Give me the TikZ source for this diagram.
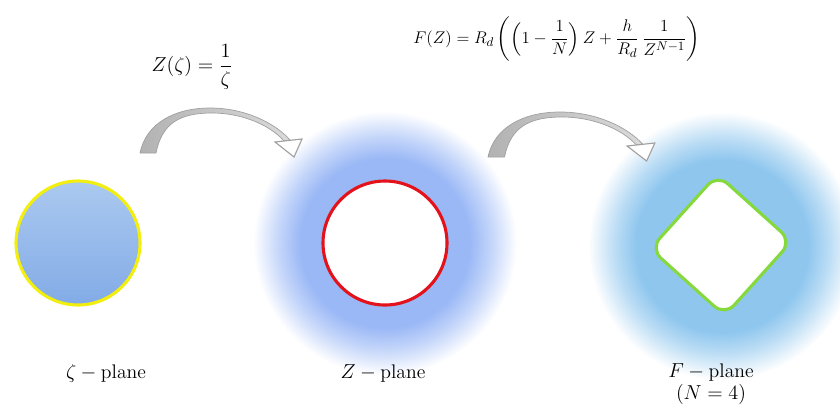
\documentclass[tikz,border=0pt]{standalone}
\usepackage{amsmath,amssymb}
\usepackage{tikz}
\usepackage{xcolor}
\usetikzlibrary{positioning, calc, shadings}
\definecolor{ringyellow}{HTML}{F2EE10}
\definecolor{ringred}{HTML}{E3121B}
\definecolor{diamgreen}{HTML}{86D93C}
\definecolor{disctop}{HTML}{ABC9F0}
\definecolor{discbottom}{HTML}{82ABE6}
\definecolor{glowz}{HTML}{9AB8F6}
\definecolor{glowf}{HTML}{8EC6EE}
\definecolor{arrowdark}{HTML}{B2B2B2}
\definecolor{arrowlight}{HTML}{DADADA}
\definecolor{arrowline}{HTML}{A0A0A0}
\pgfdeclareradialshading{glowzshade}{\pgfpoint{0bp}{0bp}}{color(0bp)=(glowz); color(16bp)=(glowz); color(20bp)=(glowz!60); color(25bp)=(white); color(50bp)=(white)}
\pgfdeclareradialshading{glowfshade}{\pgfpoint{0bp}{0bp}}{color(0bp)=(glowf); color(16bp)=(glowf); color(20bp)=(glowf!60); color(25bp)=(white); color(50bp)=(white)}
\tikzset{
  lbl/.style={font=\fontsize{14}{17}\selectfont, inner sep=1pt},
  pics/maparrow/.style={code={
    \shade[left color=arrowdark, right color=arrowlight, draw=arrowline, line width=0.5pt]
      (0,0) .. controls (6,-30) and (35,-45) .. (70,-45)
      .. controls (105,-45) and (135,-30) .. (150,-13) -- (144,-12)
      .. controls (130,-28) and (102,-40) .. (72,-40)
      .. controls (40,-40) and (22,-30) .. (16,0) -- cycle;
    \filldraw[fill=white, draw=arrowline, line width=0.8pt]
      (135,-11) -- (162,-14) -- (154,4) -- cycle;
  }}
}

\begin{document}
\begin{tikzpicture}[x=0.025cm, y=-0.025cm]
    \useasboundingbox (0,0) rectangle (840,410);
    \clip (0,0) rectangle (840,410);
    % glows behind the two image planes
    \shade[shading=glowzshade] (385,243) circle (132);
    \shade[shading=glowfshade] (722,246) circle (134);
    % mapping arrows
    \pic at (140,153) {maparrow};
    \pic[xscale=1.03] at (488,157) {maparrow};
    % zeta plane
    \shade[top color=disctop, bottom color=discbottom, draw=ringyellow, line width=2.2pt]
      (78,243) circle (62);
    % Z plane
    \filldraw[fill=white, draw=ringred, line width=2.2pt] (385,243) circle (62);
    % F plane
    \filldraw[fill=white, draw=diamgreen, line width=2.2pt, rounded corners=10pt,
      rotate around={48:(721,245)}] (671,195) rectangle (771,295);
    % labels
    \node[lbl] (mapz) at (192,67) {$Z(\zeta)=\dfrac{1}{\zeta}$};
    \node[lbl, font=\fontsize{13.2}{16}\selectfont] (mapf) at (557,39)
      {$F(Z)=R_d\left(\left(1-\dfrac{1}{N}\right)Z+\dfrac{h}{R_d}\,\dfrac{1}{Z^{N-1}}\right)$};
    \node[lbl] (zetaplane) at (106,373) {$\zeta-\text{plane}$};
    \node[lbl] (zplane) at (383,373) {$Z-\text{plane}$};
    \node[lbl] (fplane) at (711,372) {$F-\text{plane}$};
    \node[lbl, below=0pt of fplane] (nfour) {$(N=4)$};
  \end{tikzpicture}
\end{document}
